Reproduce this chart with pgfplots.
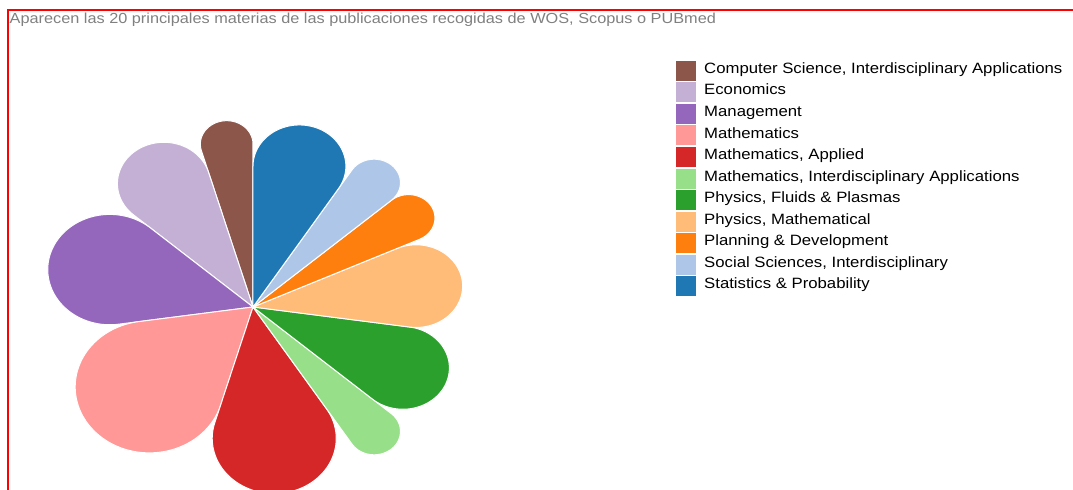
\documentclass[border=0pt]{standalone}
\usepackage{fontspec}
\setmainfont{Liberation Sans}[FakeStretch=1.12]
\usepackage{pgfplots}
\pgfplotsset{compat=1.18}

% d3 category20 colours
\definecolor{cBrown}{HTML}{8C564B}
\definecolor{cLPurple}{HTML}{C5B0D5}
\definecolor{cPurple}{HTML}{9467BD}
\definecolor{cPink}{HTML}{FF9896}
\definecolor{cRed}{HTML}{D62728}
\definecolor{cLGreen}{HTML}{98DF8A}
\definecolor{cGreen}{HTML}{2CA02C}
\definecolor{cPeach}{HTML}{FFBB78}
\definecolor{cOrange}{HTML}{FF7F0E}
\definecolor{cLBlue}{HTML}{AEC7E8}
\definecolor{cBlue}{HTML}{1F77B4}
\definecolor{titlegray}{HTML}{808080}

% one petal per subject: angle share = value/22 of the circle,
% teardrop = two tangents from the centre + a round tip at radius 1
\xdef\cum{0}
\newcommand{\petal}[3]{% colour, value, label
  \pgfmathsetmacro\pa{90+\cum*360/22}%
  \pgfmathsetmacro\pw{#2*360/22}%
  \pgfmathsetmacro\pmid{\pa+\pw/2}%
  \pgfmathsetmacro\ps{sin(\pw/2)}%
  \pgfmathsetmacro\pd{1/(1+\ps)}%
  \pgfmathsetmacro\pr{\pd*\ps}%
  \pgfmathsetmacro\pcx{\pd*cos(\pmid)}%
  \pgfmathsetmacro\pcy{\pd*sin(\pmid)}%
  \pgfmathsetmacro\pf{\pmid-90-\pw/2}%
  \pgfmathsetmacro\pspan{180+\pw}%
  \pgfmathsetmacro\newcum{\cum+#2}%
  \xdef\cum{\newcum}%
  \edef\temp{\noexpand\addplot[petal, fill=#1]
    ({(\noexpand\t<0||\noexpand\t>100) ? 0 : \pcx+\pr*cos(\pf+\noexpand\t*\pspan/100)},
     {(\noexpand\t<0||\noexpand\t>100) ? 0 : \pcy+\pr*sin(\pf+\noexpand\t*\pspan/100)});}%
  \temp
  \addlegendentry{#3}%
}

\begin{document}
\begin{tikzpicture}
\begin{axis}[
    width=1073bp, height=490bp,
    scale only axis,
    hide axis,
    xmin=-1.1973, xmax=3.8807,
    ymin=-0.9734, ymax=1.633,
    variable=\t,
    samples at={-1,0,1,...,100,101},
    petal/.style={draw=white, line width=1bp, line join=round},
    legend image code/.code={\fill[#1, draw=none] (0bp,-11.3bp) rectangle (20bp,8.7bp);},
    legend cell align=left,
    legend style={at={(axis description cs:0.63,0.8802)}, anchor=north west,
        draw=none, fill=none, inner sep=0pt, row sep=-0.4bp,
        font=\fontsize{15}{18}\selectfont,
        nodes={inner sep=0pt, text height=14.5bp, text depth=6.8bp},
        /tikz/every odd column/.append style={column sep=8bp}},
]
\petal{cBrown}{1}{Computer Science, Interdisciplinary Applications}
\petal{cLPurple}{2}{Economics}
\petal{cPurple}{3}{Management}
\petal{cPink}{4}{Mathematics}
\petal{cRed}{3}{Mathematics, Applied}
\petal{cLGreen}{1}{Mathematics, Interdisciplinary Applications}
\petal{cGreen}{2}{Physics, Fluids \& Plasmas}
\petal{cPeach}{2}{Physics, Mathematical}
\petal{cOrange}{1}{Planning \& Development}
\petal{cLBlue}{1}{Social Sciences, Interdisciplinary}
\petal{cBlue}{2}{Statistics \& Probability}
\end{axis}
% red frame of the page (left and top edges only)
\fill[red] ([xshift=6.5bp]current axis.south west)
    rectangle ([xshift=8.5bp, yshift=-10.8bp]current axis.north west);
\fill[red] ([xshift=6.5bp, yshift=-9.2bp]current axis.north west)
    rectangle ([yshift=-10.8bp]current axis.north east);
\node[anchor=base west, inner sep=0pt, text=titlegray,
      font=\fontsize{14.6}{16}\selectfont]
    at ([xshift=9.5bp, yshift=-24bp]current axis.north west)
    {Aparecen las 20 principales materias de las publicaciones recogidas de WOS, Scopus o PUBmed};
\pgfresetboundingbox
\path[use as bounding box] (current axis.south west) rectangle (current axis.north east);
\end{tikzpicture}
\end{document}
